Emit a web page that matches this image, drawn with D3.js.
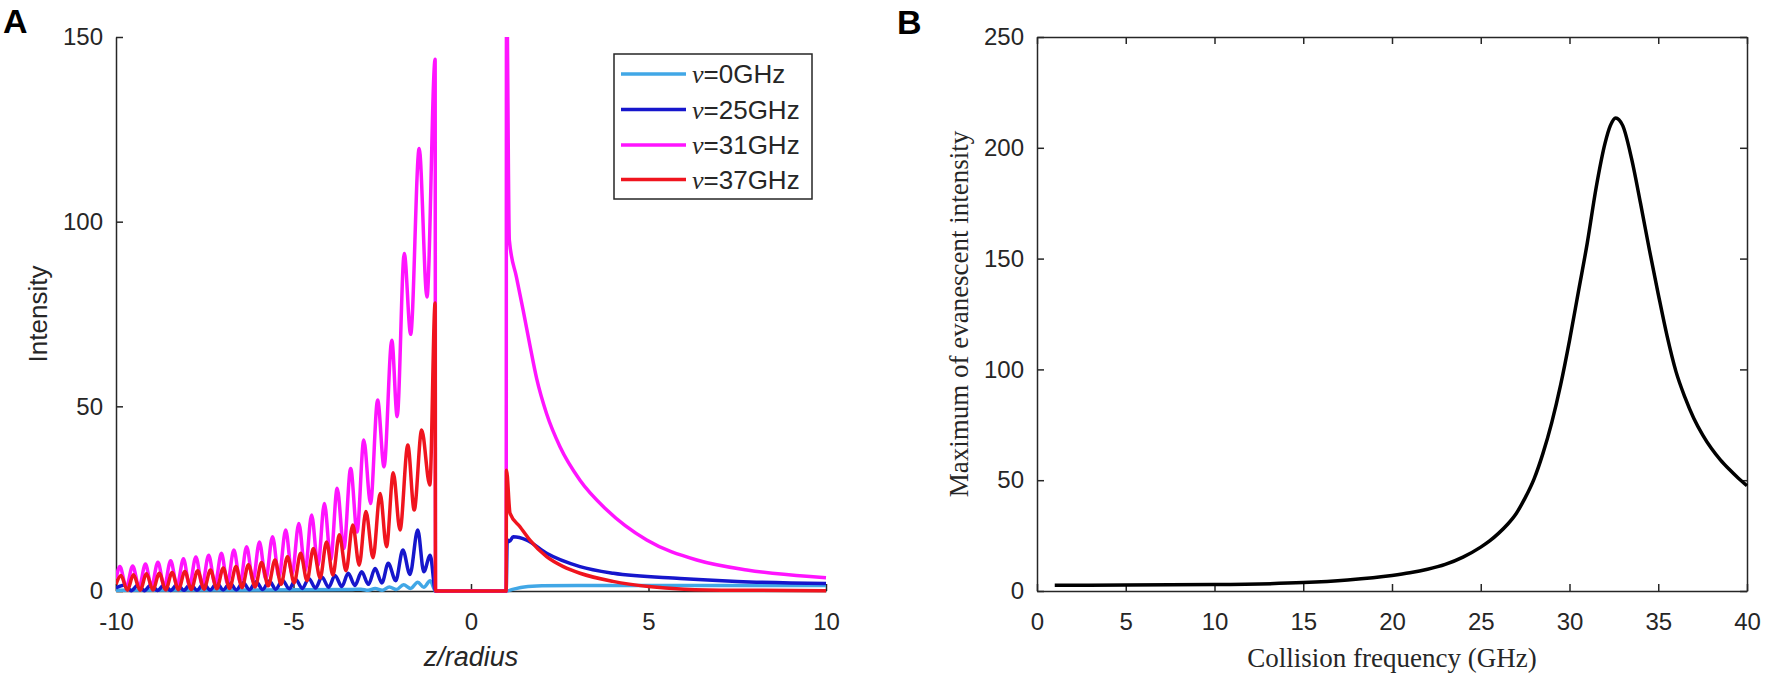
<!DOCTYPE html>
<html>
<head>
<meta charset="utf-8">
<script src="https://cdn.jsdelivr.net/npm/d3@7"></script>
<style>
  body { margin: 0; background: #fff; }
  svg { display: block; }
  .tick text { font-family: "Liberation Sans", Arial, sans-serif; font-size: 24px; fill: #262626; }
  .tick line, .domain { stroke: #262626; stroke-width: 1.5px; }
</style>
</head>
<body>
<div id="chart"></div>
<script>
// ---- panel A data: [z/radius, intensity] ----
const seriesNames = ['0GHz', '25GHz', '31GHz', '37GHz'];
const seriesColors = ['#41a7e6', '#1616cc', '#ff14ff', '#f0141e'];

const cyanPts = [
  [-10, 0.2], [-6, 0.3], [-3.4, 0.4], [-3.1, 0.5], [-2.9, 0.2], [-2.7, 0.7], [-2.5, 0.2],
  [-2.3, 1.1], [-2.1, 0.4], [-1.9, 1.7], [-1.7, 0.7], [-1.5, 2.4], [-1.33, 1.0], [-1.15, 2.8],
  [-1.0, 0], [0.99, 0],
  [1.2, 0.5], [1.5, 1.1], [2, 1.4], [3, 1.5], [5, 1.5], [10, 1.5]
];

const bluePts = [
  [-10, 0.8],
  [-9.75, 1.6], [-9.57, 0.1], [-9.38, 1.6], [-9.2, 0.1], [-9.01, 1.7], [-8.83, 0.15], [-8.64, 1.7],
  [-8.46, 0.15], [-8.27, 1.8], [-8.09, 0.2], [-7.90, 1.9], [-7.72, 0.2], [-7.53, 2.0], [-7.35, 0.25],
  [-7.16, 2.1], [-6.98, 0.3], [-6.79, 2.2], [-6.61, 0.3], [-6.42, 2.3], [-6.24, 0.35], [-6.05, 2.5],
  [-5.87, 0.4], [-5.68, 2.7], [-5.5, 0.5], [-5.31, 2.9], [-5.12, 0.6], [-4.94, 3.1], [-4.75, 0.7],
  [-4.57, 3.4], [-4.38, 0.8], [-4.20, 3.8], [-4.01, 1.0], [-3.83, 4.2], [-3.64, 1.2], [-3.46, 4.8],
  [-3.27, 1.5], [-3.08, 5.2], [-2.89, 1.8], [-2.70, 6.1], [-2.51, 2.2], [-2.33, 7.5], [-2.12, 2.8],
  [-1.92, 11.1], [-1.72, 4.5], [-1.50, 16.5], [-1.33, 5.2], [-1.15, 9.7],
  [-1.0, 0], [0.99, 0],
  [1.02, 13.8], [1.08, 13.4], [1.19, 14.7], [1.57, 13.8], [2.13, 10.2], [3.07, 6.6], [4.01, 4.8],
  [5.89, 3.4], [7.5, 2.6], [10, 2.0]
];

const magentaPts = [
  [-10, 3.2],
  [-9.89, 6.6], [-9.71, 1.0], [-9.53, 6.8], [-9.35, 1.1], [-9.17, 7.3], [-9.0, 1.2], [-8.82, 7.8],
  [-8.64, 1.3], [-8.46, 8.2], [-8.28, 1.4], [-8.10, 8.7], [-7.93, 1.5], [-7.75, 9.2], [-7.57, 1.7],
  [-7.39, 9.7], [-7.21, 1.9], [-7.03, 10.2], [-6.86, 2.1], [-6.68, 11.1], [-6.50, 2.4], [-6.32, 12.0],
  [-6.14, 2.8], [-5.96, 13.3], [-5.78, 3.2], [-5.59, 14.7], [-5.41, 3.8], [-5.22, 16.5], [-5.04, 4.5],
  [-4.85, 18.3], [-4.67, 5.5], [-4.49, 20.6], [-4.31, 6.8], [-4.13, 23.7], [-3.95, 8.5], [-3.77, 27.8],
  [-3.58, 11.5], [-3.39, 33.2], [-3.21, 16], [-3.02, 40.9], [-2.83, 23.7], [-2.63, 51.7], [-2.45, 33.6],
  [-2.23, 67.9], [-2.08, 47.2], [-1.88, 91.4], [-1.70, 69.5], [-1.46, 119.8], [-1.24, 79.6], [-1.01, 144],
  [-1.0, 0], [0.99, 0],
  [1.0, 168], [1.08, 95], [1.28, 85], [1.47, 76], [1.66, 66.5], [1.85, 57.5], [2.13, 48], [2.51, 39],
  [3.07, 30], [3.82, 22], [4.95, 13.8], [6.36, 8.4], [7.77, 5.7], [9.55, 3.9], [10, 3.6]
];

const redPts = [
  [-10, 1.8],
  [-9.86, 4.2], [-9.68, 0.2], [-9.51, 4.4], [-9.32, 0.2], [-9.14, 4.7], [-8.96, 0.25], [-8.78, 4.8],
  [-8.6, 0.3], [-8.42, 5.0], [-8.24, 0.35], [-8.06, 5.3], [-7.88, 0.4], [-7.70, 5.5], [-7.52, 0.5],
  [-7.34, 5.7], [-7.16, 0.6], [-6.98, 6.2], [-6.8, 0.7], [-6.62, 6.6], [-6.45, 0.9], [-6.27, 7.1],
  [-6.08, 1.1], [-5.90, 7.7], [-5.71, 1.4], [-5.52, 8.4], [-5.35, 1.8], [-5.17, 9.3], [-4.98, 2.2],
  [-4.80, 10.2], [-4.62, 2.8], [-4.44, 11.5], [-4.25, 3.5], [-4.07, 13.3], [-3.89, 4.3], [-3.71, 15.2],
  [-3.52, 5.5], [-3.33, 17.9], [-3.15, 7], [-2.96, 21.5], [-2.76, 9], [-2.56, 26.4], [-2.38, 12],
  [-2.19, 32], [-2.0, 16.5], [-1.78, 39.5], [-1.60, 21.9], [-1.39, 43.6], [-1.16, 28.7], [-1.01, 78],
  [-1.0, 0], [0.99, 0],
  [1.0, 32.7], [1.1, 21], [1.38, 17.4], [1.66, 13.8], [2.13, 9.3], [2.6, 6.6], [3.07, 4.8],
  [4.0, 2.6], [5.0, 1.2], [6.0, 0.5], [7.5, 0.2], [10, 0.1]
];

const xTicksA = [-10, -5, 0, 5, 10];
const yTicksA = [0, 50, 100, 150];

// ---- panel B data ----
const freqGHz = [1, 5, 10, 15, 17.5, 20, 21, 22, 23, 24, 25, 25.5, 26, 26.5, 27, 27.5, 28, 28.5, 29, 29.5, 30,
  30.5, 31, 31.5, 32, 32.3, 32.6, 33, 33.5, 34, 34.5, 35, 35.5, 36, 36.5, 37, 37.5, 38, 38.5, 39, 39.5, 40];
const maxIntensity = [2.6, 2.7, 2.9, 3.8, 5, 7, 8.2, 9.8, 12, 15.3, 19.8, 22.6, 26, 30, 35, 42, 50.5, 62, 76, 93, 113,
  135, 157, 182, 202, 210, 213.5, 210, 195, 175, 154, 134, 115, 99, 87.5, 78, 70.5, 64.3, 59.2, 54.9, 51, 47.5];

const xTicksB = [0, 5, 10, 15, 20, 25, 30, 35, 40];
const yTicksB = [0, 50, 100, 150, 200, 250];

const W = 1772, H = 677;
const svg = d3.select('#chart').append('svg').attr('width', W).attr('height', H);

const tickLen = 7;
const plainNum = d => String(d);   // hyphen minus, as in the figure

// ================= panel A =================
const A = {left: 116, right: 826, top: 37, bottom: 591};
const xA = d3.scaleLinear().domain([-10, 10]).range([A.left, A.right]);
const yA = d3.scaleLinear().domain([0, 150]).range([A.bottom, A.top]);

svg.append('defs').append('clipPath').attr('id', 'clipA')
  .append('rect').attr('x', A.left).attr('y', A.top)
  .attr('width', A.right - A.left + 4).attr('height', A.bottom - A.top + 3);

svg.append('g')
  .attr('transform', `translate(0,${A.bottom})`)
  .call(d3.axisBottom(xA).tickValues(xTicksA).tickFormat(plainNum)
    .tickSizeInner(-tickLen).tickSizeOuter(0).tickPadding(22));

svg.append('g')
  .attr('transform', `translate(${A.left},0)`)
  .call(d3.axisLeft(yA).tickValues(yTicksA).tickFormat(plainNum)
    .tickSizeInner(-tickLen).tickSizeOuter(0).tickPadding(13));

const lineA = d3.line()
  .x(d => xA(d[0]))
  .y(d => yA(d[1]))
  .curve(d3.curveMonotoneX);

const allSeries = [cyanPts, bluePts, magentaPts, redPts];
svg.append('g').attr('clip-path', 'url(#clipA)')
  .selectAll('path')
  .data(allSeries)
  .join('path')
  .attr('d', lineA)
  .attr('fill', 'none')
  .attr('stroke', (d, i) => seriesColors[i])
  .attr('stroke-width', 3.5)
  .attr('stroke-linejoin', 'round');

// legend
const leg = svg.append('g');
leg.append('rect')
  .attr('x', 614).attr('y', 54).attr('width', 198).attr('height', 145)
  .attr('fill', '#fff').attr('stroke', '#262626').attr('stroke-width', 1.5);
const rowY = [74, 109.5, 145, 179.5];
seriesNames.forEach((name, i) => {
  leg.append('line')
    .attr('x1', 621).attr('x2', 686).attr('y1', rowY[i]).attr('y2', rowY[i])
    .attr('stroke', seriesColors[i]).attr('stroke-width', 3.5);
  const t = leg.append('text')
    .attr('x', 692).attr('y', rowY[i] + 9)
    .style('font-family', '"Liberation Sans", Arial, sans-serif')
    .style('font-size', '26px').attr('fill', '#262626');
  t.append('tspan').text('\u03bd')
    .style('font-family', '"Liberation Serif", "Times New Roman", serif')
    .style('font-style', 'italic');
  t.append('tspan').text('=' + name);
});

svg.append('text')
  .attr('transform', `translate(47,${(A.top + A.bottom) / 2}) rotate(-90)`)
  .attr('text-anchor', 'middle')
  .style('font-family', '"Liberation Sans", Arial, sans-serif')
  .style('font-size', '26px').attr('fill', '#262626')
  .text('Intensity');

svg.append('text')
  .attr('x', xA(0)).attr('y', 666)
  .attr('text-anchor', 'middle')
  .style('font-family', '"Liberation Sans", Arial, sans-serif')
  .style('font-size', '27px').style('font-style', 'italic').attr('fill', '#262626')
  .text('z/radius');

svg.append('text')
  .attr('x', 3).attr('y', 33)
  .style('font-family', '"Liberation Sans", Arial, sans-serif')
  .style('font-size', '34px').style('font-weight', 'bold').attr('fill', '#000')
  .text('A');

// ================= panel B =================
const B = {left: 1037, right: 1747, top: 37, bottom: 591};
const xB = d3.scaleLinear().domain([0, 40]).range([B.left, B.right]);
const yB = d3.scaleLinear().domain([0, 250]).range([B.bottom, B.top]);

svg.append('g')
  .attr('transform', `translate(0,${B.bottom})`)
  .call(d3.axisBottom(xB).tickValues(xTicksB).tickFormat(plainNum)
    .tickSizeInner(-tickLen).tickSizeOuter(0).tickPadding(22));
svg.append('g')
  .attr('transform', `translate(0,${B.top})`)
  .call(d3.axisTop(xB).tickValues(xTicksB).tickSizeInner(-tickLen).tickSizeOuter(0).tickFormat(''));
svg.append('g')
  .attr('transform', `translate(${B.left},0)`)
  .call(d3.axisLeft(yB).tickValues(yTicksB).tickFormat(plainNum)
    .tickSizeInner(-tickLen).tickSizeOuter(0).tickPadding(13));
svg.append('g')
  .attr('transform', `translate(${B.right},0)`)
  .call(d3.axisRight(yB).tickValues(yTicksB).tickSizeInner(-tickLen).tickSizeOuter(0).tickFormat(''));

const lineB = d3.line()
  .x(d => xB(d[0]))
  .y(d => yB(d[1]))
  .curve(d3.curveMonotoneX);

svg.append('path')
  .datum(d3.zip(freqGHz, maxIntensity))
  .attr('d', lineB)
  .attr('fill', 'none')
  .attr('stroke', '#000')
  .attr('stroke-width', 3.5);

svg.append('text')
  .attr('transform', `translate(968,${(B.top + B.bottom) / 2}) rotate(-90)`)
  .attr('text-anchor', 'middle')
  .style('font-family', '"Liberation Serif", "Times New Roman", serif')
  .style('font-size', '27px').attr('fill', '#262626')
  .text('Maximum of evanescent intensity');

svg.append('text')
  .attr('x', (B.left + B.right) / 2).attr('y', 667)
  .attr('text-anchor', 'middle')
  .style('font-family', '"Liberation Serif", "Times New Roman", serif')
  .style('font-size', '27px').attr('fill', '#262626')
  .text('Collision frequency (GHz)');

svg.append('text')
  .attr('x', 897).attr('y', 34)
  .style('font-family', '"Liberation Sans", Arial, sans-serif')
  .style('font-size', '34px').style('font-weight', 'bold').attr('fill', '#000')
  .text('B');
</script>
</body>
</html>
